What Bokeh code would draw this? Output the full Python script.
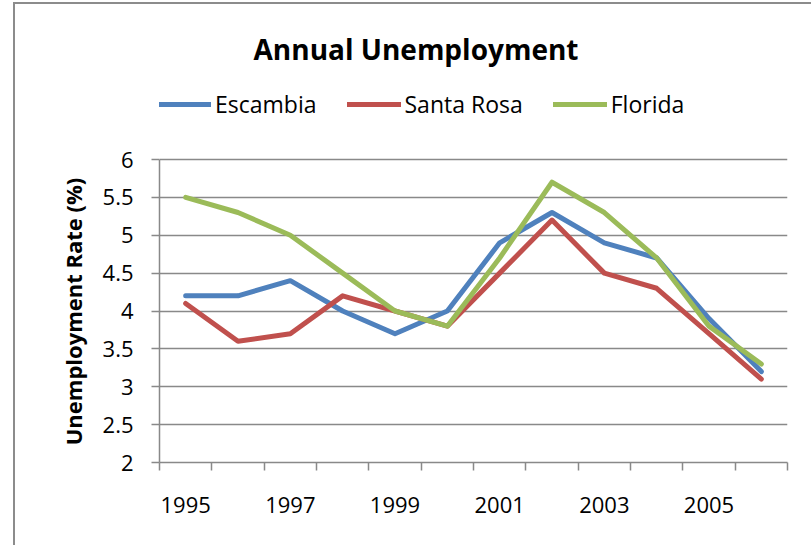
from bokeh.plotting import figure
from bokeh.models import (Range1d, FixedTicker, CustomJSTickFormatter, Legend,
                          LegendItem, Label)
from bokeh.embed import file_html
from bokeh.resources import INLINE

# ---- data ----
years = [1995, 1996, 1997, 1998, 1999, 2000, 2001, 2002, 2003, 2004, 2005, 2006]
escambia = [4.2, 4.2, 4.4, 4.0, 3.7, 4.0, 4.9, 5.3, 4.9, 4.7, 3.9, 3.2]
santa_rosa = [4.1, 3.6, 3.7, 4.2, 4.0, 3.8, 4.5, 5.2, 4.5, 4.3, 3.7, 3.1]
florida = [5.5, 5.3, 5.0, 4.5, 4.0, 3.8, 4.7, 5.7, 5.3, 4.7, 3.8, 3.3]
x_tick_labels = [1995, 1997, 1999, 2001, 2003, 2005]
y_ticks = [2, 2.5, 3, 3.5, 4, 4.5, 5, 5.5, 6]
series_names = ["Escambia", "Santa Rosa", "Florida"]
title_text = "Annual Unemployment"
y_label_text = "Unemployment Rate (%)"

FONT = "Open Sans"
GRAY = "#898989"
COLORS = ["#4F81BD", "#C0504D", "#9BBB59"]

# layout (pixels): the frame spans the full height down to the x axis; the
# value axis occupies its lower 303 px, title and legend sit above it.
W, H = 811, 545
FRAME_LEFT, FRAME_RIGHT, FRAME_BOTTOM = 159, 787, 462
AXIS_PX = 303
y_end = y_ticks[0] + (y_ticks[-1] - y_ticks[0]) * FRAME_BOTTOM / AXIS_PX

p = figure(width=W, height=H, title=None,
           x_range=Range1d(years[0] - 0.5, years[-1] + 0.5),
           y_range=Range1d(y_ticks[0], y_end),
           output_backend="svg", toolbar_location=None,
           min_border_left=FRAME_LEFT, min_border_right=W - FRAME_RIGHT,
           min_border_top=0, min_border_bottom=H - FRAME_BOTTOM)
p.background_fill_alpha = 0
p.border_fill_alpha = 0
p.outline_line_color = None
p.styles = {
    "background": ("linear-gradient(#8c8c8c, #8c8c8c) 13px 2px / 2px calc(100% - 2px) no-repeat, "
                   "linear-gradient(#8c8c8c, #8c8c8c) 13px 2px / calc(100% - 13px) 2px no-repeat, "
                   "#ffffff")
}

# x axis (category style)
boundaries = [y - 0.5 for y in years] + [years[-1] + 0.5]
p.xaxis.ticker = FixedTicker(ticks=x_tick_labels, minor_ticks=boundaries)
p.xaxis.major_tick_out = 0
p.xaxis.major_tick_in = 0
p.xaxis.minor_tick_out = 8
p.xaxis.minor_tick_in = 0
p.xaxis.minor_tick_line_color = GRAY
p.xaxis.minor_tick_line_width = 1.5
p.xaxis.axis_line_color = GRAY
p.xaxis.axis_line_width = 1.5
p.xaxis.major_label_text_font = FONT
p.xaxis.major_label_text_font_size = "22px"
p.xaxis.major_label_text_color = "black"
p.xaxis.major_label_standoff = 26

# y axis
p.yaxis.ticker = FixedTicker(ticks=y_ticks, minor_ticks=[])
p.yaxis.bounds = (y_ticks[0], y_ticks[-1])
p.yaxis.formatter = CustomJSTickFormatter(code="return tick.toString();")
p.yaxis.major_tick_out = 8
p.yaxis.major_tick_in = 0
p.yaxis.major_tick_line_color = GRAY
p.yaxis.major_tick_line_width = 1.5
p.yaxis.axis_line_color = GRAY
p.yaxis.axis_line_width = 1.5
p.yaxis.major_label_text_font = FONT
p.yaxis.major_label_text_font_size = "22px"
p.yaxis.major_label_text_color = "black"
p.yaxis.major_label_standoff = 18
# the label is centred on the whole frame; trailing no-break spaces move the
# visible words down to the middle of the value axis
p.yaxis.axis_label = y_label_text + "\u00a0" * 28
p.yaxis.axis_label_text_font = FONT
p.yaxis.axis_label_text_font_style = "bold"
p.yaxis.axis_label_text_font_size = "22px"
p.yaxis.axis_label_text_color = "black"
p.yaxis.axis_label_standoff = 12

p.xgrid.visible = False
p.ygrid.ticker = FixedTicker(ticks=y_ticks)
p.ygrid.grid_line_color = GRAY
p.ygrid.grid_line_width = 1.5

renderers = []
for vals, col in zip([escambia, santa_rosa, florida], COLORS):
    r = p.line(years, vals, line_color=col, line_width=5, line_cap="round",
               line_join="round")
    renderers.append(r)

legend = Legend(items=[LegendItem(label=n, renderers=[r]) for n, r in zip(series_names, renderers)],
                orientation="horizontal", location=(-2, FRAME_BOTTOM - 120),
                glyph_width=54, glyph_height=20, label_standoff=4, spacing=30,
                padding=0, margin=0, border_line_color=None,
                background_fill_alpha=0,
                label_text_font=FONT, label_text_font_size="23px",
                label_text_color="black")
p.add_layout(legend, "center")

title = Label(x=415.5 - FRAME_LEFT, y=FRAME_BOTTOM - 48,
              x_units="screen", y_units="screen",
              text=title_text, text_align="center",
              text_baseline="alphabetic", text_font=FONT,
              text_font_style="bold", text_font_size="28px", text_color="black")
p.add_layout(title)

open("out.html", "w").write(file_html(p, INLINE))
